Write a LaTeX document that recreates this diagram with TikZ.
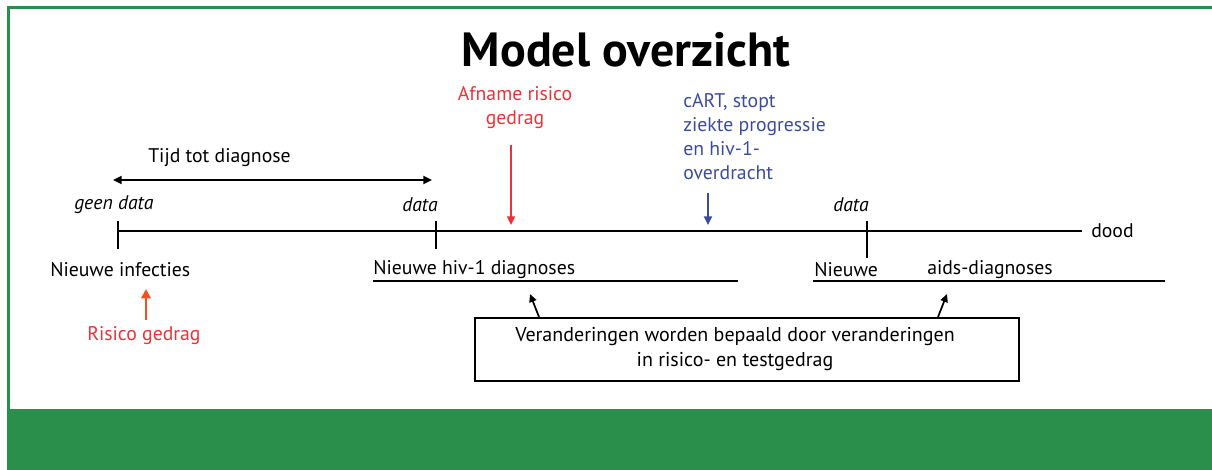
\documentclass[tikz,border=0pt]{standalone}
\usepackage{fontspec}
\setmainfont{PT Sans}
\usetikzlibrary{arrows.meta}
\definecolor{grn}{RGB}{42,143,75}
\definecolor{rd}{RGB}{236,50,55}
\definecolor{org}{RGB}{242,80,35}
\definecolor{blu}{RGB}{60,75,160}
\begin{document}
\begin{tikzpicture}[x=0.75pt,y=-0.75pt,
  txt/.style={font=\fontsize{14.8}{18}\selectfont, inner sep=0pt},
  itx/.style={font=\fontsize{14.8}{18}\selectfont\itshape, inner sep=0pt},
  tip/.style={-{Triangle[length=6.5pt,width=6pt]}},
  ln/.style={line width=1.3pt},
  uline/.style={line width=2pt}]
\useasboundingbox (0,0) rectangle (1212,470);
% frame
\fill[grn] (7,409) rectangle (1212,470);
\draw[grn, line width=2.2pt] (8.5,409) -- (8.5,7.5) -- (1212,7.5);
% title
\node[inner sep=0pt, font=\fontsize{36}{40}\selectfont\bfseries] (title) at (626,50) {Model overzicht};
% time to diagnosis
\node[txt, anchor=west] (tijd) at (148,158) {Tijd tot diagnose};
\coordinate (da) at (113,180);
\coordinate (db) at (432,180);
\draw[ln, {Triangle[length=6.5pt,width=6pt]}-{Triangle[length=6.5pt,width=6pt]}] (da) -- (db);
% data labels
\node[itx, anchor=west] (geen) at (74,205) {geen data};
\node[itx, anchor=west] (data1) at (402,205) {data};
\node[itx, anchor=west] (data2) at (833,205) {data};
% timeline
\node[txt, anchor=west] (dood) at (1091,231) {dood};
\coordinate (t0) at (118,231);
\coordinate (t1) at (1082,231);
\draw[ln] (t0) -- (t1);
\coordinate (k1a) at (118,221); \coordinate (k1b) at (118,249);
\coordinate (k2a) at (436,221); \coordinate (k2b) at (436,249);
\coordinate (k3a) at (867,221); \coordinate (k3b) at (867,258);
\draw[ln] (k1a) -- (k1b);
\draw[ln] (k2a) -- (k2b);
\draw[ln] (k3a) -- (k3b);
% below labels
\node[txt, anchor=west] (inf) at (50,270) {Nieuwe infecties};
\node[txt, anchor=west] (hiv) at (373,270) {Nieuwe hiv-1 diagnoses};
\coordinate (u1a) at (373,281); \coordinate (u1b) at (738,281);
\draw[uline] (u1a) -- (u1b);
\node[txt, anchor=west] (nw) at (814,270) {Nieuwe};
\node[txt, anchor=west] (aids) at (927,270) {aids-diagnoses};
\coordinate (u2a) at (813,281); \coordinate (u2b) at (1165,281);
\draw[uline] (u2a) -- (u2b);
% risk behaviour
\node[txt, text=rd, anchor=west] (risico) at (87,336) {Risico gedrag};
\coordinate (ra) at (146,320); \coordinate (rb) at (146,289);
\draw[org, line width=2.2pt, -{Triangle[length=7pt,width=7pt]}] (ra) -- (rb);
% afname
\node[txt, text=rd, align=center] (afn) at (515,108) {Afname risico\\gedrag};
\coordinate (aa) at (511,145); \coordinate (ab) at (511,225);
\draw[rd, line width=1pt, tip] (aa) -- (ab);
% cART
\node[txt, text=blu, align=left, anchor=north west] (cart) at (683,93) {cART, stopt\\ziekte progressie\\en hiv-1-\\overdracht};
\coordinate (ca) at (708,193); \coordinate (cb) at (708,225);
\draw[blu, line width=1.5pt, tip] (ca) -- (cb);
% box
\node[draw, line width=1.3pt, minimum width=544*0.75pt, minimum height=63*0.75pt, inner sep=0pt, anchor=north west] (box) at (474,317) {};
\node[inner sep=0pt, font=\fontsize{15}{18.5}\selectfont, align=center] (boxt) at (735,349) {Veranderingen worden bepaald door veranderingen\\in risico- en testgedrag};
\coordinate (b1) at (539,317); \coordinate (b1t) at (530,294);
\coordinate (b2) at (938,317); \coordinate (b2t) at (947,294);
\draw[line width=1.3pt, -{Triangle[length=6pt,width=5.5pt]}] (b1) -- (b1t);
\draw[line width=1.3pt, -{Triangle[length=6pt,width=5.5pt]}] (b2) -- (b2t);
\end{tikzpicture}
\end{document}
